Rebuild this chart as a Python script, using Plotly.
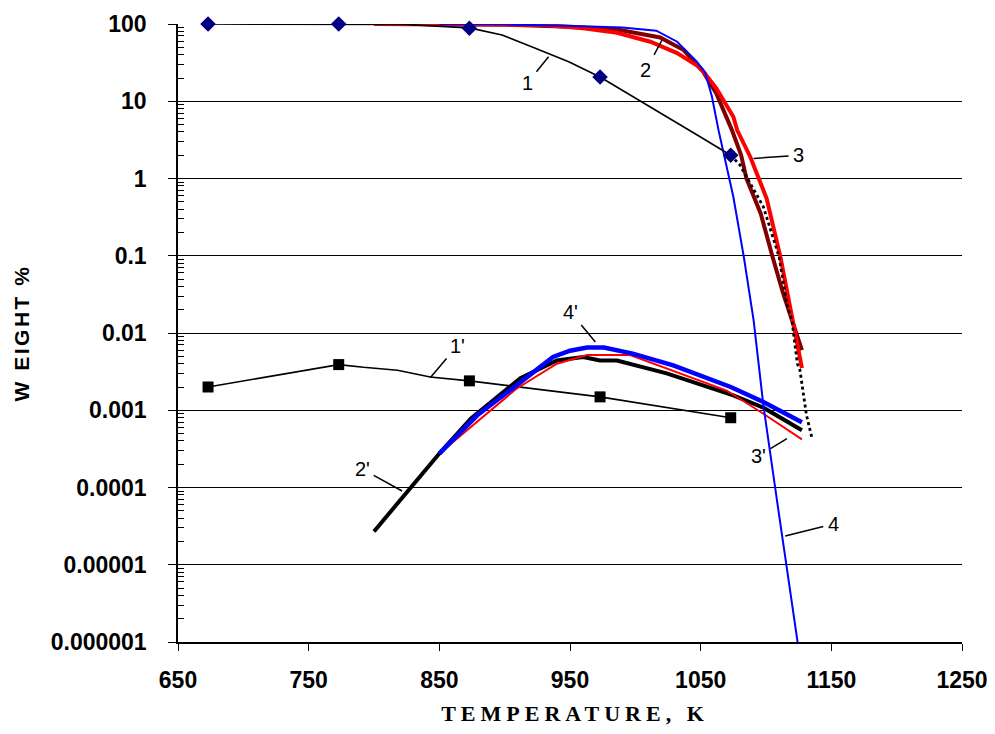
import math
import plotly.graph_objects as go

# ---------------- data ----------------
# 1 : black thin line with navy diamonds
s1_x = [673, 773, 823, 873, 898, 923, 949, 973, 998, 1011.5, 1048, 1073]
s1_y = [100, 100, 99, 89, 72, 49, 32.5, 20.6, 11.6, 8.5, 3.6, 2.0]
s1_mx = [673, 773, 873, 973, 1073]
s1_my = [100, 100, 88, 20.6, 2.0]

# dotted black extrapolation
dot_x = [1073, 1080, 1098, 1110, 1116, 1120, 1124, 1126, 1131, 1135]
dot_y = [2.0, 1.5, 0.43, 0.097, 0.024, 0.014, 0.004, 0.0033, 0.00086, 0.00045]

# 2 : dark red thick
s2_x = [800, 850, 900, 950, 986, 1019, 1037, 1052, 1062, 1074, 1081, 1085, 1092, 1096, 1105, 1113, 1127.5]
s2_y = [100, 100, 98, 92, 85, 67, 46, 24, 12.6, 4.2, 2.0, 1.0, 0.52, 0.35, 0.097, 0.033, 0.006]

# 3 : red thick
s3_x = [800, 830, 850, 900, 930, 960, 986, 1011.5, 1032, 1050, 1062, 1075, 1078, 1088, 1100.5, 1111, 1118.5, 1127.5]
s3_y = [100, 101, 100, 99, 97, 88, 77, 59, 42, 27, 14.7, 6.3, 4.2, 1.9, 0.55, 0.097, 0.022, 0.0035]

# 4 : blue thin
s4_x = [850, 900, 953, 990, 1016, 1032, 1047, 1053.5, 1058.6, 1063.7, 1075, 1083, 1090.5, 1095.6, 1098, 1108.4, 1116, 1125]
s4_y = [100, 99, 94, 90, 82, 59, 32.5, 23.4, 11.5, 4.2, 0.58, 0.097, 0.0147, 0.0026, 0.00116, 6.8e-5, 9.3e-6, 8e-7]

# 1' : black thin line with black squares
p1_x = [673, 700, 721, 748, 773, 792, 818, 843, 873, 973, 1073]
p1_y = [0.002, 0.0024, 0.0028, 0.0033, 0.0039, 0.0036, 0.0033, 0.0027, 0.0024, 0.00149, 0.0008]
p1_mx = [673, 773, 873, 973, 1073]
p1_my = [0.002, 0.0039, 0.0024, 0.00149, 0.0008]

# 2' : black thick
p2_x = [800, 850, 874, 912, 940, 960, 973, 986, 1024, 1075, 1098, 1127.5]
p2_y = [2.7e-5, 2.75e-4, 7.8e-4, 0.0026, 0.0044, 0.0049, 0.0044, 0.0044, 0.003, 0.00156, 0.00108, 0.00055]

# 3' : red thin
p3_x = [850, 874, 909, 940, 963, 996, 1024, 1070, 1098, 1127.5]
p3_y = [2.75e-4, 6.1e-4, 0.0019, 0.004, 0.0052, 0.0052, 0.0035, 0.0018, 0.0009, 0.00042]

# 4' : blue thick
p4_x = [850, 879, 909, 937, 950, 963, 976, 998, 1029, 1073, 1098, 1127.5]
p4_y = [2.75e-4, 8.6e-4, 0.0021, 0.0049, 0.0059, 0.0065, 0.0065, 0.0054, 0.0038, 0.002, 0.00128, 0.0007]

# axis ticks
x_ticks = [650, 750, 850, 950, 1050, 1150, 1250]
y_tickvals = [1e-6, 1e-5, 1e-4, 1e-3, 1e-2, 1e-1, 1, 10, 100]
y_ticktext = ["0.000001", "0.00001", "0.0001", "0.001", "0.01", "0.1", "1", "10", "100"]

# curve labels: text, tip x (K), tip y (value), text offset in px
label_text = ["1", "2", "3", "1'", "4'", "2'", "3'", "4"]
label_x = [933.6, 1020.4, 1090.5, 843.2, 969.4, 821.5, 1116, 1114.7]
label_y = [37.7, 62.1, 1.82, 0.00265, 0.00767, 9.0e-5, 0.00043, 2.35e-5]
label_ax = [-21, -16, 45, 27, -25, -40, -28, 48]
label_ay = [26, 30, -3, -32, -30, -22, 17, -12]

# ---------------- figure ----------------
fig = go.Figure()

def line(x, y, color, width, dash="solid", clip=True):
    fig.add_trace(go.Scatter(x=x, y=y, mode="lines", showlegend=False,
                             line=dict(color=color, width=width, dash=dash),
                             cliponaxis=clip, hoverinfo="skip"))

# lower group
line(p1_x, p1_y, "black", 1.6)
line(p2_x, p2_y, "black", 4)
line(p3_x, p3_y, "#ff0000", 2)
line(p4_x, p4_y, "#0000ff", 4.5)
fig.add_trace(go.Scatter(x=p1_mx, y=p1_my, mode="markers", showlegend=False,
                         marker=dict(symbol="square", size=11, color="black")))

# upper group
line(s2_x, s2_y, "#800000", 4, clip=False)
line(s3_x, s3_y, "#ff0000", 4, clip=False)
line(s4_x, s4_y, "#0000ff", 2)
line(s1_x, s1_y, "black", 1.6, clip=False)
line(dot_x, dot_y, "black", 2.8, "dot")
fig.add_trace(go.Scatter(x=s1_mx, y=s1_my, mode="markers", showlegend=False,
                         cliponaxis=False,
                         marker=dict(symbol="diamond", size=12, color="#000080")))

for t, x, y, ax, ay in zip(label_text, label_x, label_y, label_ax, label_ay):
    fig.add_annotation(x=x, y=math.log10(y), text=t, showarrow=True,
                       arrowhead=0, arrowwidth=1.5, arrowcolor="black",
                       ax=ax, ay=ay, standoff=0, startstandoff=3,
                       font=dict(family="Liberation Sans, Arial", size=20, color="black"))

# page body keeps its default 8px margin, so the figure is 16px smaller
fig.update_layout(
    width=979, height=718,
    margin=dict(l=170, r=25, t=16, b=84, autoexpand=False),
    paper_bgcolor="white", plot_bgcolor="white",
    font=dict(family="Liberation Sans, Arial", color="black"),
    showlegend=False,
)

fig.update_xaxes(
    range=[650, 1250], tickvals=x_ticks, automargin=False,
    ticklabeloverflow="allow",
    showgrid=False, zeroline=False,
    showline=True, linecolor="black", linewidth=1.5,
    ticks="outside", ticklen=7, tickcolor="black", tickwidth=1,
    ticklabelstandoff=10,
    tickfont=dict(family="Liberation Sans, Arial", size=23, weight="bold", color="black"),
    title=dict(text="TEMPERATURE, K", standoff=17,
               font=dict(family="Liberation Serif, Times New Roman", size=22, weight="bold", color="black")),
)

minor_vals = [k * 10 ** e for e in range(-6, 2) for k in range(2, 10)]
fig.update_yaxes(
    type="log", range=[-6, 2], automargin=False,
    ticklabeloverflow="allow",
    tickmode="array", tickvals=y_tickvals, ticktext=y_ticktext,
    showgrid=True, gridcolor="black", gridwidth=1,
    zeroline=False,
    showline=True, linecolor="black", linewidth=1.5,
    ticks="outside", ticklen=8, tickcolor="black", tickwidth=1,
    ticklabelstandoff=17,
    minor=dict(tickmode="array", tickvals=minor_vals, ticks="inside", ticklen=6,
               tickcolor="black", tickwidth=1, showgrid=False),
    tickfont=dict(family="Liberation Sans, Arial", size=23, weight="bold", color="black"),
    title=dict(text="W EIGHT %", standoff=15,
               font=dict(family="Liberation Sans, Arial", size=21, weight="bold", color="black")),
)

post = ("document.documentElement.style.overflow='hidden';"
        "document.querySelectorAll('.xtitle').forEach(function(e){e.style.letterSpacing='5px';"
        "e.setAttribute('transform','translate(5,0)');});"
        "document.querySelectorAll('.ytitle').forEach(function(e){e.style.letterSpacing='2.5px';});")
fig.write_html("out.html", post_script=post, config={"displayModeBar": False})
